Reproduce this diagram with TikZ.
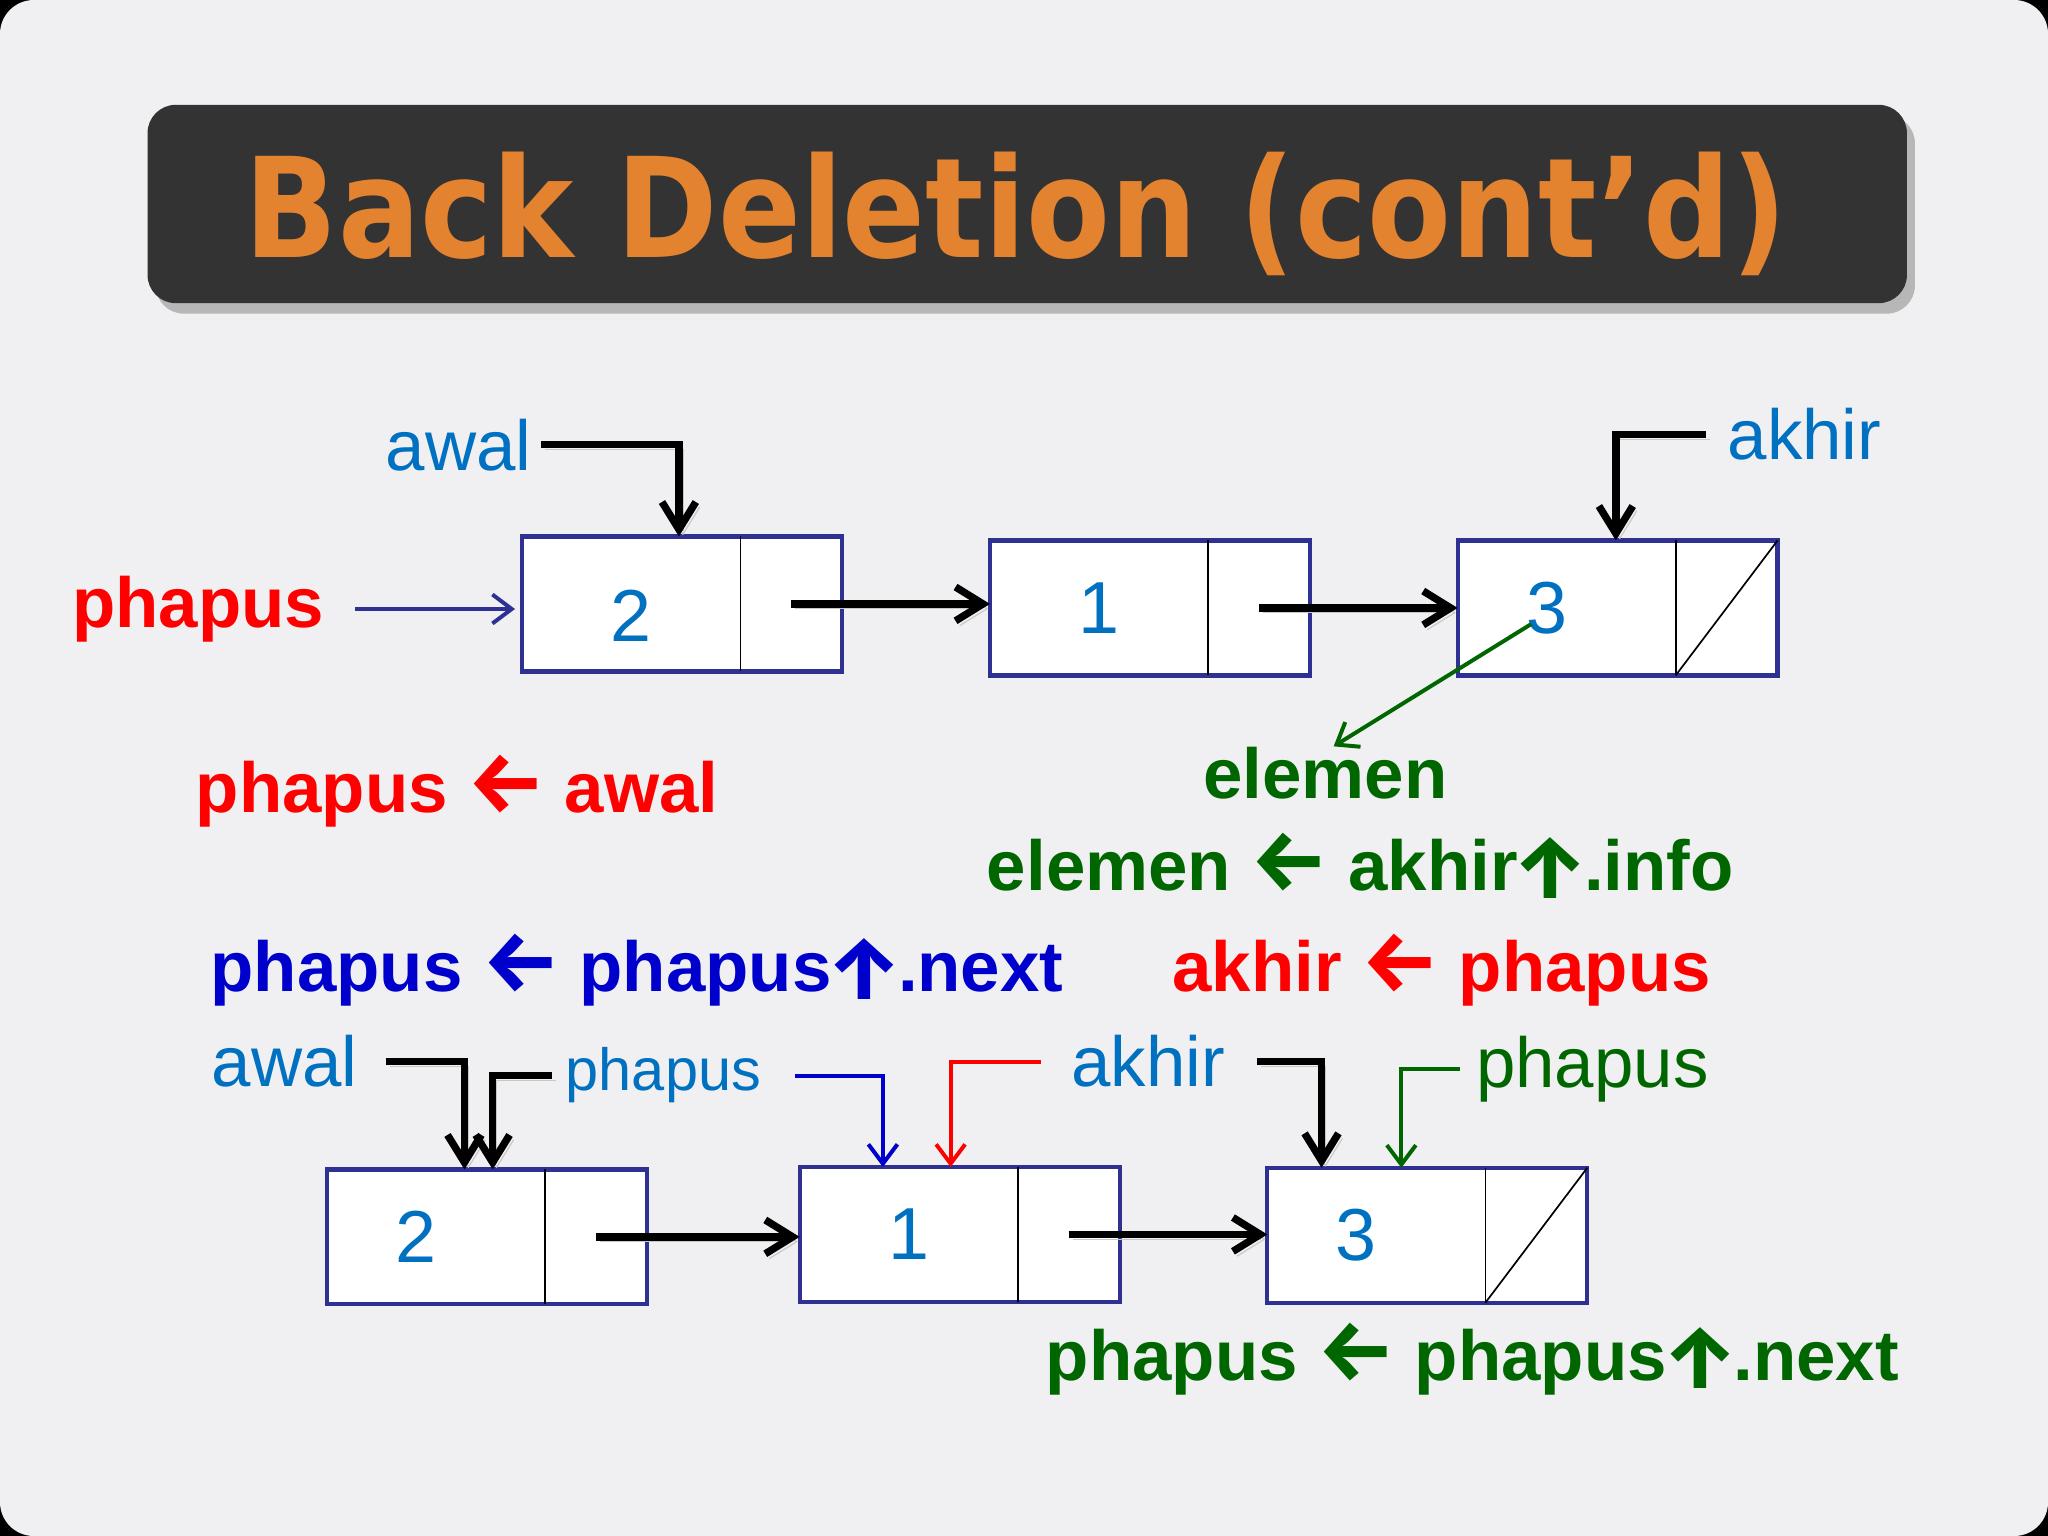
\documentclass[tikz,border=0pt]{standalone}
\usepackage{fontspec}
\setmainfont{Liberation Sans}
\newfontfamily\titlefont[FakeStretch=0.88]{DejaVu Sans}
\newfontfamily\arrowfont[Scale=1.22]{Fira Sans}
\usetikzlibrary{arrows.meta, positioning, shadows}

\definecolor{slidebg}{HTML}{F0F0F2}
\definecolor{barfill}{HTML}{333333}
\definecolor{titleorange}{HTML}{E3822F}
\definecolor{lblblue}{HTML}{0070C0}
\definecolor{stmtblue}{HTML}{0000CC}
\definecolor{stmtred}{HTML}{FF0000}
\definecolor{stmtgreen}{HTML}{006600}
\definecolor{boxnavy}{HTML}{2E3192}

\begin{document}
\begin{tikzpicture}[
  bar/.style={fill=barfill, rounded corners=0.35cm, minimum width=21.82cm,
              minimum height=2.46cm, inner sep=0,
              drop shadow={shadow xshift=0.1cm, shadow yshift=-0.13cm, opacity=0.5}},
  cell/.style={fill=white, minimum width=2.69cm, minimum height=1.66cm, inner sep=0,
               font=\fontsize{26}{30}\selectfont, text=lblblue},
  ptrcell/.style={fill=white, minimum width=1.25cm, minimum height=1.66cm, inner sep=0},
  frame/.style={draw=boxnavy, line width=1.5pt},
  divider/.style={draw=black, line width=0.6pt},
  var/.style={font=\fontsize{25}{30}\selectfont, text=lblblue, inner sep=0, anchor=base west},
  stmt/.style={font=\fontsize{25}{30}\selectfont\bfseries, inner sep=0, anchor=base},
  link/.style={line width=2.6pt, -{Straight Barb[length=3.4mm, width=4.2mm]},
               preaction={draw=black!22, transform canvas={shift={(0.05cm,-0.06cm)}}}},
  hint/.style={line width=1.4pt, -{Straight Barb[length=2.4mm, width=3.6mm]}}
]
\useasboundingbox (0,0) rectangle (25.4,-19.05);

%% ── Slide backdrop and title ───────────────────────────────────────────────────
\fill[black] (0,0) rectangle (25.4,-19.05);
\fill[slidebg, rounded corners=0.42cm] (0,0) rectangle (25.4,-19.05);
\node[bar] (titlebar) at (12.74,-2.53) {};
\node[font=\titlefont\fontsize{49}{58}\selectfont\bfseries, text=titleorange,
      inner sep=0, anchor=base] (title) at (12.6,-3.19) {Back Deletion (cont’d)};

%% ── Upper list: before the deletion ────────────────────────────────────────────
\node[cell]    (t2) at (7.83,-7.49) {\raisebox{-0.15cm}[\height][0pt]{2}};
\node[ptrcell, right=0pt of t2] (t2p) {};
\node[cell]    (t1) at (13.63,-7.54) {1};
\node[ptrcell, right=0pt of t1] (t1p) {};
\node[cell]    (t3) at (19.43,-7.54) {\hspace*{-0.5cm}3};
\node[ptrcell, right=0pt of t3] (t3p) {};

\draw[frame] (t2.north west) rectangle (t2p.south east);
\draw[frame] (t1.north west) rectangle (t1p.south east);
\draw[frame] (t3.north west) rectangle (t3p.south east);
\draw[divider] (t2p.north west) -- (t2p.south west);
\draw[divider] (t1p.north west) -- (t1p.south west);
\draw[divider] (t3p.north west) -- (t3p.south west);
\draw[divider] (t3p.south west) -- (t3p.north east);

\draw[link] (t2p.center) -- (t2p.center -| t1.west);
\draw[link] (t1p.center) -- (t1p.center -| t3.west);

% Pointer names
\node[var] (awal1)  at (4.78,-5.83)  {awal};
\node[var] (akhir1) at (21.42,-5.70) {akhir};
\node[var, font=\fontsize{25}{30}\selectfont\bfseries, text=stmtred]
           (ph1)    at (0.89,-7.78)  {phapus};

\draw[link] ([xshift=0.11cm]awal1.east) -| ([xshift=0.59cm]t2.north);
\draw[link] ([xshift=-0.26cm]akhir1.west) -| ([xshift=0.61cm]t3.north);
\draw[hint, boxnavy, shorten <=0.38cm, shorten >=0.09cm] (ph1.east) -- (ph1.east -| t2.west);

%% ── Statements ─────────────────────────────────────────────────────────────────
\node[stmt, text=stmtred]   (s1)   at (5.67,-10.08)  {phapus {\arrowfont ←} awal};
\node[stmt, text=stmtgreen] (elem) at (16.44,-9.90)  {elemen};
\node[stmt, text=stmtgreen] (s2)   at (16.87,-11.04)
  {elemen {\arrowfont ←} akhir\kern-0.08em\raisebox{-0.1cm}{\arrowfont ↑}\kern-0.08em.info};
\node[stmt, text=stmtblue]  (s3)   at (7.9,-12.30)
  {phapus {\arrowfont ←} phapus\kern-0.08em\raisebox{-0.1cm}{\arrowfont ↑}\kern-0.08em.next};
\node[stmt, text=stmtred]   (s4)   at (17.88,-12.30) {akhir {\arrowfont ←} phapus};

\draw[hint, stmtgreen] ([shift={(-0.44,-0.2)}]t3.center) -- ([xshift=0.1cm]elem.north);

%% ── Lower list: after the pointers move ────────────────────────────────────────
\node[cell]    (b2) at (5.41,-15.34) {\hspace*{-0.5cm}2};
\node[ptrcell, right=0pt of b2] (b2p) {};
\node[cell]    (b1) at (11.27,-15.31) {1};
\node[ptrcell, right=0pt of b1] (b1p) {};
\node[cell]    (b3) at (17.07,-15.32) {\hspace*{-0.5cm}3};
\node[ptrcell, right=0pt of b3] (b3p) {};

\draw[frame] (b2.north west) rectangle (b2p.south east);
\draw[frame] (b1.north west) rectangle (b1p.south east);
\draw[frame] (b3.north west) rectangle (b3p.south east);
\draw[divider] (b2p.north west) -- (b2p.south west);
\draw[divider] (b1p.north west) -- (b1p.south west);
\draw[divider] (b3p.north west) -- (b3p.south west);
\draw[divider] (b3p.south west) -- (b3p.north east);

\draw[link] (b2p.center) -- (b2p.center -| b1.west);
\draw[link] (b1p.center) -- (b1p.center -| b3.west);

% Pointer names
\node[var] (awal2)  at (2.62,-13.48)  {awal};
\node[var, font=\fontsize{21}{25}\selectfont] (ph2) at (7.01,-13.53) {phapus};
\node[var] (akhir2) at (13.28,-13.48) {akhir};
\node[var, text=stmtgreen] (ph3) at (18.30,-13.49) {phapus};

\draw[link] ([xshift=0.34cm]awal2.east) -| ([xshift=0.35cm]b2.north);
\draw[link] ([xshift=-0.16cm]ph2.west) -| ([xshift=0.70cm]b2.north);
\draw[hint, stmtblue] ([xshift=0.42cm]ph2.east) -| ([xshift=-0.32cm]b1.north);
\draw[hint, stmtred] ([xshift=-0.37cm]akhir2.west) -| ([xshift=0.52cm]b1.north);
\draw[link] ([xshift=0.39cm]akhir2.east) -| ([xshift=-0.68cm]b3.north);
\draw[hint, stmtgreen] ([xshift=-0.19cm]ph3.west) -| ([xshift=0.31cm]b3.north);

\node[stmt, text=stmtgreen] (s5) at (18.26,-17.12)
  {phapus {\arrowfont ←} phapus\kern-0.08em\raisebox{-0.1cm}{\arrowfont ↑}\kern-0.08em.next};

\end{tikzpicture}
\end{document}
